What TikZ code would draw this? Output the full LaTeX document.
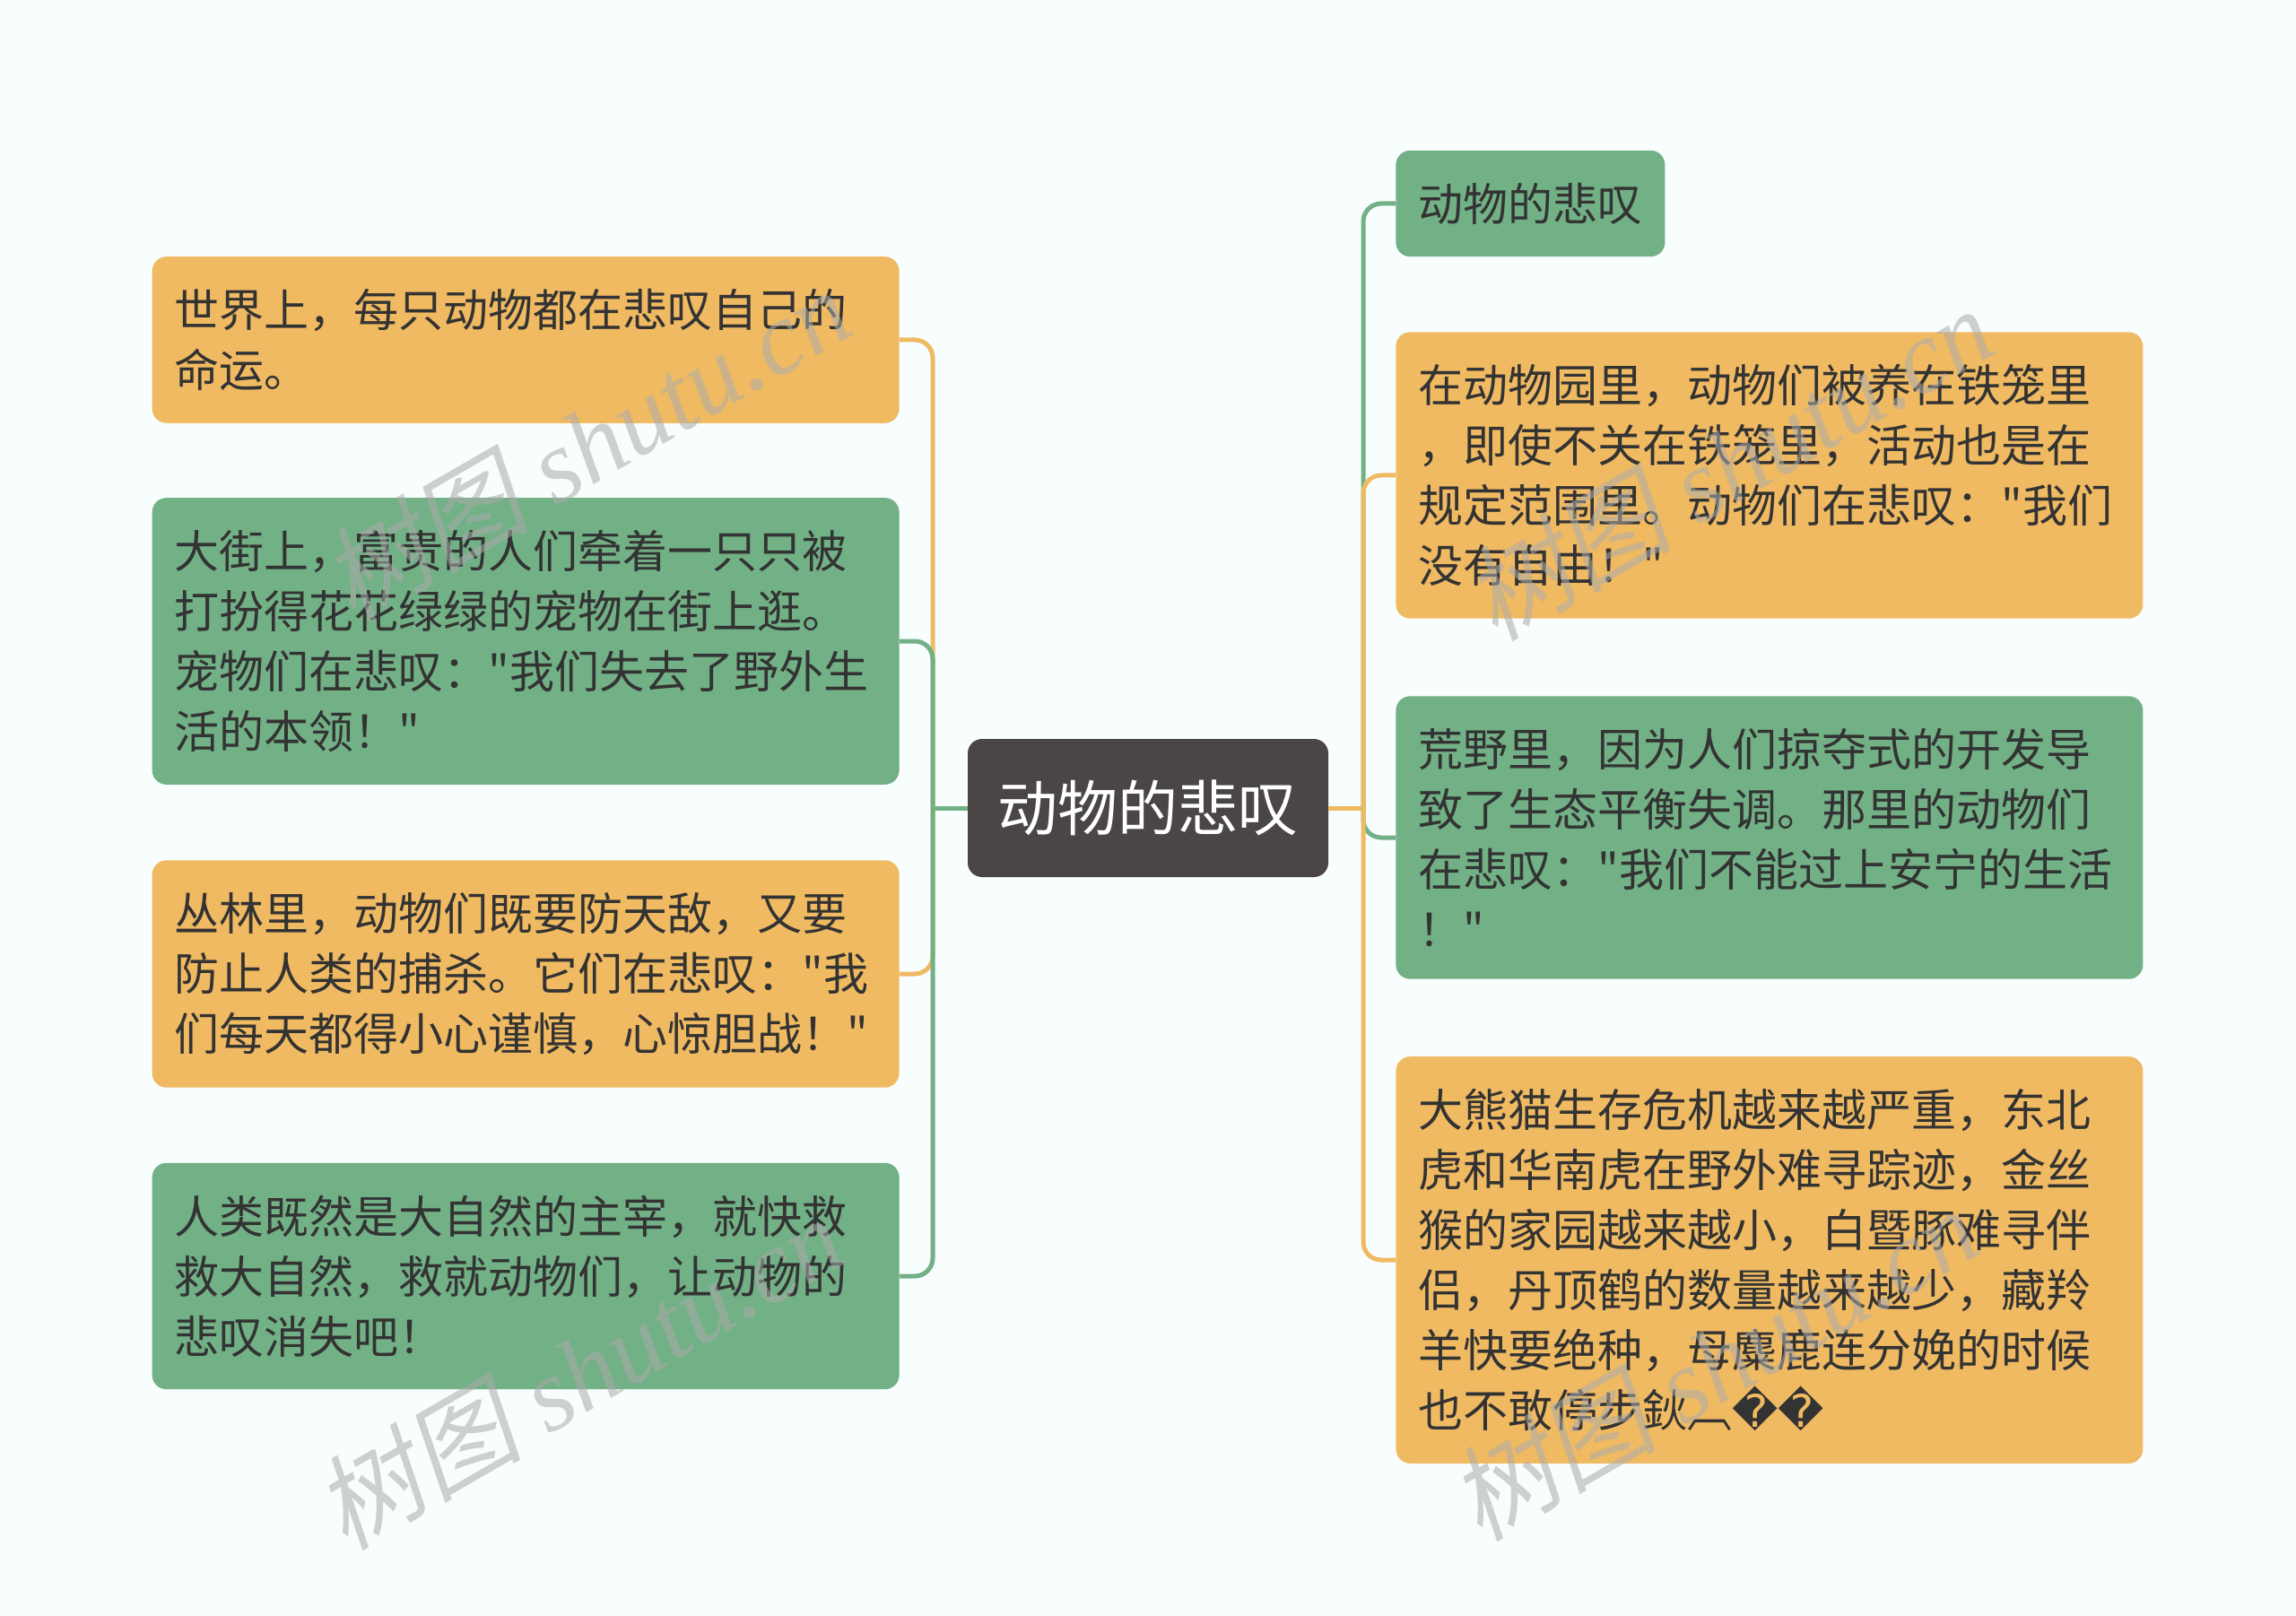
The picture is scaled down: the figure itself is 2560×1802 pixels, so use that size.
\documentclass[tikz,border=0pt]{standalone}
\usepackage{fontspec}
\setmainfont{Liberation Serif}
\newfontfamily\cjk{Noto Sans CJK SC}
\newfontfamily\cjkslant[FakeSlant=0.2]{Noto Sans CJK SC}
\newfontfamily\djv{DejaVu Sans}

\definecolor{bgcol}{HTML}{F8FEFE}
\definecolor{orangebox}{HTML}{F0BA62}
\definecolor{greenbox}{HTML}{72B086}
\definecolor{rootbox}{HTML}{4B4646}
\definecolor{txtcol}{HTML}{333333}

\tikzset{
	leaf/.style={rounded corners=8pt, inner xsep=12.5pt, inner ysep=18pt,
		text width=391.5pt, align=left, text=txtcol,
		font=\cjk\fontsize{25pt}{33.5pt}\selectfont},
	orangeleaf/.style={leaf, fill=orangebox},
	greenleaf/.style={leaf, fill=greenbox},
	rootnode/.style={rounded corners=8pt, fill=rootbox, text=white,
		minimum width=201pt, minimum height=77pt, inner sep=0pt,
		font=\cjk\fontsize{33.5pt}{40pt}\selectfont},
	link/.style={line width=2.5pt, rounded corners=10pt},
	wmark/.style={rotate=30, text=gray!65, opacity=0.55,
		font=\fontsize{58pt}{58pt}\selectfont\itshape}
}

\begin{document}
\begin{tikzpicture}[x=0.5pt,y=-0.5pt]
	\fill[bgcol] (0,0) rectangle (2560,1802);
	\useasboundingbox (0,0) rectangle (2560,1802);

	\node[rootnode] (root) at (1280,901) {动物的悲叹};
	\coordinate (lj) at (1040,901);
	\coordinate (rj) at (1520,901);

	% left side
	\node[orangeleaf, anchor=east] (zoo1) at (1003,379) {世界上，每只动物都在悲叹自己的\\命运。};
	\node[greenleaf, anchor=east] (street) at (1003,715) {大街上，富贵的人们牵着一只只被\\打扮得花花绿绿的宠物在街上逛。\\宠物们在悲叹："我们失去了野外生\\活的本领！"};
	\node[orangeleaf, anchor=east] (forest) at (1003,1086) {丛林里，动物们既要防天敌，又要\\防止人类的捕杀。它们在悲叹："我\\们每天都得小心谨慎，心惊胆战！"};
	\node[greenleaf, anchor=east] (nature) at (1003,1423) {人类既然是大自然的主宰，就快救\\救大自然，救就动物们，让动物的\\悲叹消失吧！};

	% right side
	\node[greenleaf, anchor=west, text width=125pt] (title) at (1556,227) {动物的悲叹};
	\node[orangeleaf, anchor=west] (cage) at (1556,530) {在动物园里，动物们被养在铁笼里\\，即使不关在铁笼里，活动也是在\\规定范围里。动物们在悲叹："我们\\没有自由！"};
	\node[greenleaf, anchor=west] (wild) at (1556,934) {荒野里，因为人们掠夺式的开发导\\致了生态平衡失调。那里的动物们\\在悲叹："我们不能过上安宁的生活\\！"};
	\node[orangeleaf, anchor=west] (panda) at (1556,1405) {大熊猫生存危机越来越严重，东北\\虎和华南虎在野外难寻踪迹，金丝\\猴的家园越来越小，白暨豚难寻伴\\侣，丹顶鹤的数量越来越少，藏羚\\羊快要绝种，母麋鹿连分娩的时候\\也不敢停步鈥︹{\djv ��}};

	\draw[link, greenbox] (root.west) -- (lj);
	\draw[link, orangebox] (root.east) -- (rj);
	\draw[link, orangebox] (lj) |- (zoo1.east);
	\draw[link, greenbox] (lj) |- (street.east);
	\draw[link, orangebox] (lj) |- (forest.east);
	\draw[link, greenbox] (lj) |- (nature.east);
	\draw[link, greenbox] (rj) |- (title.west);
	\draw[link, orangebox] (rj) |- (cage.west);
	\draw[link, greenbox] (rj) |- (wild.west);
	\draw[link, orangebox] (rj) |- (panda.west);

	% watermarks
	\node[wmark] (wm1) at (653,495) {{\cjkslant 树图} shutu.cn};
	\node[wmark] (wm2) at (645,1530) {{\cjkslant 树图} shutu.cn};
	\node[wmark] (wm3) at (1927,516) {{\cjkslant 树图} shutu.cn};
	\node[wmark] (wm4) at (1910,1520) {{\cjkslant 树图} shutu.cn};
\end{tikzpicture}
\end{document}
